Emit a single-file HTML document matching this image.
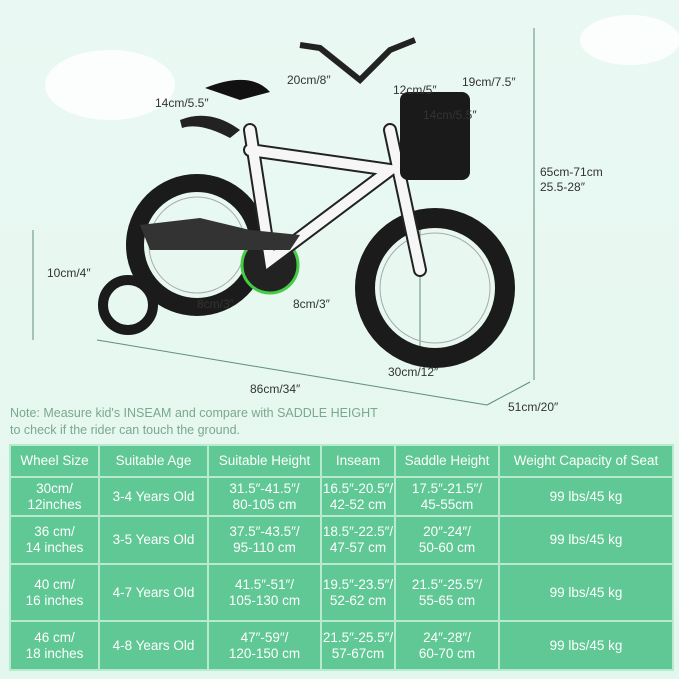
<!DOCTYPE html>
<html><head><meta charset="utf-8"><style>
body{margin:0;width:679px;height:679px;overflow:hidden;background:linear-gradient(#eaf8f3,#e4f7ee);font-family:"Liberation Sans",sans-serif;position:relative}
.lb{position:absolute;font-size:12px;color:#333;white-space:nowrap}
.note{position:absolute;left:10px;top:405px;font-size:12.5px;color:#7aa88f;line-height:17px}
table{position:absolute;left:9px;top:444px;width:663px;table-layout:fixed;border-collapse:collapse;background:#5fc894;color:#fff;font-size:13.5px;text-align:center}
td{border:2px solid #b8ead0;line-height:16px;padding:0;white-space:nowrap;overflow:hidden}
</style></head><body>
<svg width="679" height="679" style="position:absolute;left:0;top:0">
<ellipse cx="110" cy="85" rx="65" ry="35" fill="#fff" opacity=".8"/>
<ellipse cx="630" cy="40" rx="50" ry="25" fill="#fff" opacity=".8"/>
<g stroke="#5f8f78" stroke-width="1" fill="none">
<line x1="534" y1="28" x2="534" y2="380"/>
<line x1="97" y1="340" x2="487" y2="405"/>
<line x1="487" y1="405" x2="530" y2="382"/>
<line x1="33" y1="230" x2="33" y2="340"/>
<line x1="420" y1="220" x2="420" y2="365"/>
</g>
<circle cx="197" cy="245" r="62" fill="none" stroke="#1b1b1b" stroke-width="18"/>
<circle cx="435" cy="288" r="70" fill="none" stroke="#1b1b1b" stroke-width="20"/>
<circle cx="128" cy="305" r="25" fill="none" stroke="#1b1b1b" stroke-width="10"/>
<circle cx="435" cy="288" r="55" fill="none" stroke="#aaa" stroke-width="1"/>
<circle cx="197" cy="245" r="48" fill="none" stroke="#aaa" stroke-width="1"/>
<circle cx="270" cy="265" r="28" fill="#222" stroke="#4c4" stroke-width="3"/>
<g stroke="#222" stroke-width="14" stroke-linecap="round" fill="none">
<path d="M250 130 L270 260 L390 170 L250 150"/>
<path d="M390 130 L420 270"/>
</g>
<g stroke="#f6f6f6" stroke-width="10" stroke-linecap="round" fill="none">
<path d="M250 130 L270 260 L390 170 L250 150"/>
<path d="M390 130 L420 270"/>
</g>
<path d="M140 225 L200 218 L250 230 L300 235 L290 250 L150 250Z" fill="#333"/>
<path d="M205 88 Q250 70 270 92 L240 100 Z" fill="#111"/>
<path d="M180 120 Q210 108 240 130 L230 138 Q200 122 182 128Z" fill="#222"/>
<path d="M300 45 L320 48 L360 80 L390 50 L415 40" stroke="#222" stroke-width="6" fill="none"/>
<rect x="400" y="92" width="70" height="88" rx="8" fill="#1a1a1a"/>
</svg>
<div class="lb" style="left:287px;top:73px">20cm/8″</div>
<div class="lb" style="left:155px;top:96px">14cm/5.5″</div>
<div class="lb" style="left:393px;top:83px">12cm/5″</div>
<div class="lb" style="left:462px;top:75px">19cm/7.5″</div>
<div class="lb" style="left:423px;top:108px">14cm/5.5″</div>
<div class="lb" style="left:540px;top:165px;line-height:15px">65cm-71cm<br>25.5-28″</div>
<div class="lb" style="left:47px;top:266px">10cm/4″</div>
<div class="lb" style="left:197px;top:297px">8cm/3″</div>
<div class="lb" style="left:293px;top:297px">8cm/3″</div>
<div class="lb" style="left:388px;top:365px">30cm/12″</div>
<div class="lb" style="left:250px;top:382px">86cm/34″</div>
<div class="lb" style="left:508px;top:400px">51cm/20″</div>
<div class="note">Note: Measure kid's INSEAM and compare with SADDLE HEIGHT<br>to check if the rider can touch the ground.</div>
<table>
<colgroup><col style="width:89px"><col style="width:109px"><col style="width:113px"><col style="width:74px"><col style="width:104px"><col style="width:174px"></colgroup>
<tr style="height:32px"><td>Wheel Size</td><td>Suitable Age</td><td>Suitable Height</td><td>Inseam</td><td>Saddle Height</td><td>Weight Capacity of Seat</td></tr>
<tr style="height:39px"><td>30cm/<br>12inches</td><td>3-4 Years Old</td><td>31.5″-41.5″/<br>80-105 cm</td><td>16.5″-20.5″/<br>42-52 cm</td><td>17.5″-21.5″/<br>45-55cm</td><td>99 lbs/45 kg</td></tr>
<tr style="height:48px"><td>36 cm/<br>14 inches</td><td>3-5 Years Old</td><td>37.5″-43.5″/<br>95-110 cm</td><td>18.5″-22.5″/<br>47-57 cm</td><td>20″-24″/<br>50-60 cm</td><td>99 lbs/45 kg</td></tr>
<tr style="height:57px"><td>40 cm/<br>16 inches</td><td>4-7 Years Old</td><td>41.5″-51″/<br>105-130 cm</td><td>19.5″-23.5″/<br>52-62 cm</td><td>21.5″-25.5″/<br>55-65 cm</td><td>99 lbs/45 kg</td></tr>
<tr style="height:49px"><td>46 cm/<br>18 inches</td><td>4-8 Years Old</td><td>47″-59″/<br>120-150 cm</td><td>21.5″-25.5″/<br>57-67cm</td><td>24″-28″/<br>60-70 cm</td><td>99 lbs/45 kg</td></tr>
</table>
</body></html>
